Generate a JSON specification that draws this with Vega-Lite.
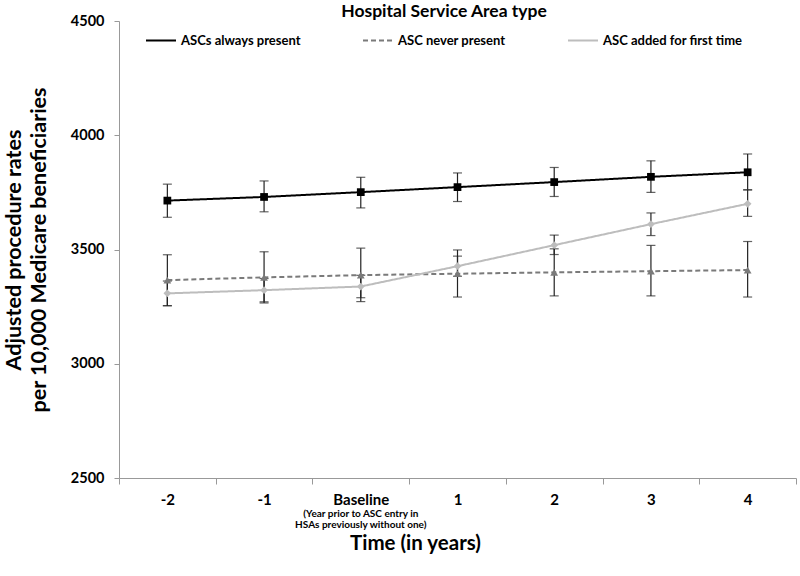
{
  "$schema": "https://vega.github.io/schema/vega-lite/v6.json",
  "autosize": {"type": "none"},
  "width": 677,
  "height": 457,
  "padding": {"left": 119, "top": 21, "right": 4, "bottom": 98},
  "background": "white",
  "config": {
    "font": "Lato",
    "view": {"stroke": null},
    "axis": {"grid": false, "labelFontWeight": "bold", "titleFontWeight": "bold", "labelColor": "#000", "titleColor": "#000", "domainColor": "#999", "tickColor": "#999"}
  },
  "datasets": {
    "main": [
      {"series": "ASCs always present", "t": "-2", "v": 3714, "lo": 3641, "hi": 3786},
      {"series": "ASCs always present", "t": "-1", "v": 3730, "lo": 3665, "hi": 3800},
      {"series": "ASCs always present", "t": "Baseline", "v": 3751, "lo": 3682, "hi": 3816},
      {"series": "ASCs always present", "t": "1", "v": 3773, "lo": 3710, "hi": 3835},
      {"series": "ASCs always present", "t": "2", "v": 3795, "lo": 3732, "hi": 3859},
      {"series": "ASCs always present", "t": "3", "v": 3818, "lo": 3750, "hi": 3888},
      {"series": "ASCs always present", "t": "4", "v": 3838, "lo": 3761, "hi": 3918},
      {"series": "ASC never present", "t": "-2", "v": 3366, "lo": 3254, "hi": 3477},
      {"series": "ASC never present", "t": "-1", "v": 3378, "lo": 3266, "hi": 3490},
      {"series": "ASC never present", "t": "Baseline", "v": 3388, "lo": 3272, "hi": 3506},
      {"series": "ASC never present", "t": "1", "v": 3394, "lo": 3292, "hi": 3498},
      {"series": "ASC never present", "t": "2", "v": 3400, "lo": 3297, "hi": 3503},
      {"series": "ASC never present", "t": "3", "v": 3405, "lo": 3297, "hi": 3518},
      {"series": "ASC never present", "t": "4", "v": 3410, "lo": 3292, "hi": 3535},
      {"series": "ASC added for first time", "t": "-2", "v": 3308, "lo": 3254, "hi": 3362},
      {"series": "ASC added for first time", "t": "-1", "v": 3322, "lo": 3271, "hi": 3373},
      {"series": "ASC added for first time", "t": "Baseline", "v": 3338, "lo": 3289, "hi": 3387},
      {"series": "ASC added for first time", "t": "1", "v": 3427, "lo": 3383, "hi": 3471},
      {"series": "ASC added for first time", "t": "2", "v": 3519, "lo": 3478, "hi": 3563},
      {"series": "ASC added for first time", "t": "3", "v": 3611, "lo": 3561, "hi": 3660},
      {"series": "ASC added for first time", "t": "4", "v": 3700, "lo": 3645, "hi": 3761}
    ],
    "note": [
      {"t": "Baseline", "base": 2500, "note": "(Year prior to ASC entry in\nHSAs previously without one)"}
    ]
  },
  "encoding": {
    "x": {
      "field": "t", "type": "ordinal",
      "sort": ["-2", "-1", "Baseline", "1", "2", "3", "4"],
      "scale": {"type": "band", "paddingInner": 0, "paddingOuter": 0},
      "axis": {
        "title": "Time (in years)", "labelAngle": 0, "labelFontSize": 15, "labelPadding": 8,
        "tickSize": 6, "tickBand": "extent", "titleFontSize": 20.5,
        "titleX": 296, "titleY": 65, "titleBaseline": "middle"
      }
    }
  },
  "layer": [
    {
      "data": {"name": "main"},
      "mark": {"type": "rule", "color": "#222", "strokeWidth": 1.2},
      "encoding": {
        "y": {"field": "lo", "type": "quantitative"},
        "y2": {"field": "hi"}
      }
    },
    {
      "data": {"name": "main"},
      "mark": {"type": "tick", "orient": "horizontal", "size": 9, "thickness": 1.2, "color": "#222"},
      "encoding": {"y": {"field": "lo", "type": "quantitative"}}
    },
    {
      "data": {"name": "main"},
      "mark": {"type": "tick", "orient": "horizontal", "size": 9, "thickness": 1.2, "color": "#222"},
      "encoding": {"y": {"field": "hi", "type": "quantitative"}}
    },
    {
      "data": {"name": "main"},
      "mark": {"type": "line", "strokeWidth": 2},
      "encoding": {
        "y": {
          "field": "v", "type": "quantitative",
          "scale": {"domain": [2500, 4500], "nice": false, "zero": false},
          "axis": {
            "values": [2500, 3000, 3500, 4000, 4500], "format": "d", "labelFontSize": 14.5, "labelPadding": 10, "tickSize": 5,
            "title": ["Adjusted procedure rates", "per 10,000 Medicare beneficiaries"],
            "titleFontSize": 21.5, "titleLineHeight": 25, "titleX": -116, "titleBaseline": "top"
          }
        },
        "color": {
          "field": "series", "type": "nominal",
          "scale": {"domain": ["ASCs always present", "ASC never present", "ASC added for first time"], "range": ["#000000", "#7a7a7a", "#bdbdbd"]},
          "legend": {
            "title": "Hospital Service Area type", "orient": "none", "legendX": 26, "legendY": -18,
            "direction": "horizontal", "columns": 3, "columnPadding": 58,
            "titleAnchor": "middle", "titleFontSize": 17.5, "titleFontWeight": "bold", "titlePadding": 4, "titleLimit": 600,
            "labelFontSize": 13, "labelFontWeight": "bold", "labelColor": "#000", "labelOffset": 4, "labelLimit": 300,
            "symbolType": "stroke", "symbolSize": 900, "symbolStrokeWidth": 2
          }
        },
        "strokeDash": {
          "field": "series", "type": "nominal",
          "scale": {"domain": ["ASCs always present", "ASC never present", "ASC added for first time"], "range": [[1, 0], [5, 3], [1, 0]]},
          "legend": {
            "title": "Hospital Service Area type", "orient": "none", "legendX": 26, "legendY": -18,
            "direction": "horizontal", "columns": 3, "columnPadding": 58,
            "titleAnchor": "middle", "titleFontSize": 17.5, "titleFontWeight": "bold", "titlePadding": 4, "titleLimit": 600,
            "labelFontSize": 13, "labelFontWeight": "bold", "labelColor": "#000", "labelOffset": 4, "labelLimit": 300,
            "symbolType": "stroke", "symbolSize": 900, "symbolStrokeWidth": 2
          }
        }
      }
    },
    {
      "data": {"name": "main"},
      "transform": [{"filter": "datum.series === 'ASCs always present'"}],
      "mark": {"type": "point", "filled": true, "size": 60, "opacity": 1, "shape": "square", "color": "#000000"},
      "encoding": {"y": {"field": "v", "type": "quantitative"}}
    },
    {
      "data": {"name": "main"},
      "transform": [{"filter": "datum.series === 'ASC never present'"}],
      "mark": {"type": "point", "filled": true, "size": 60, "opacity": 1, "shape": "triangle-up", "color": "#7a7a7a"},
      "encoding": {"y": {"field": "v", "type": "quantitative"}}
    },
    {
      "data": {"name": "main"},
      "transform": [{"filter": "datum.series === 'ASC added for first time'"}],
      "mark": {"type": "point", "filled": true, "size": 60, "opacity": 1, "shape": "diamond", "color": "#bdbdbd"},
      "encoding": {"y": {"field": "v", "type": "quantitative"}}
    },
    {
      "data": {"name": "note"},
      "mark": {"type": "text", "fontSize": 10, "fontWeight": "bold", "baseline": "top", "dy": 31, "lineBreak": "\n", "lineHeight": 11, "color": "#000"},
      "encoding": {
        "y": {"field": "base", "type": "quantitative"},
        "text": {"field": "note"}
      }
    }
  ]
}
